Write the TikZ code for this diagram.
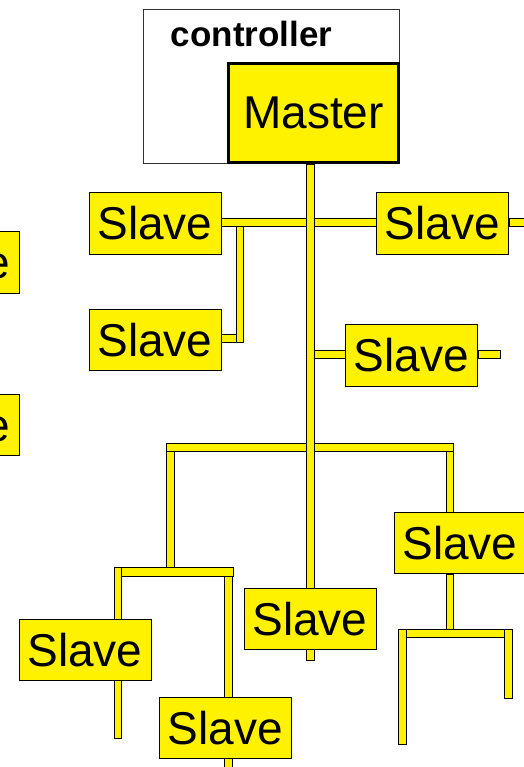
\documentclass[tikz,border=0pt]{standalone}
\usepackage{fontspec}
\setmainfont{Liberation Sans}
\begin{document}
\begin{tikzpicture}[x=1pt,y=-1pt,
  bus/.style={fill=yellow,draw=black,line width=0.7pt},
  slavebox/.style={draw=black,fill=yellow,line width=0.8pt,minimum width=132pt,minimum height=61.5pt,inner sep=0pt,font=\fontsize{46}{46}\selectfont},
  masterbox/.style={draw=black,fill=yellow,line width=3pt,minimum width=170pt,minimum height=99pt,inner sep=0pt,font=\fontsize{46}{46}\selectfont},
  ctrlbox/.style={draw=black!80,fill=white,line width=0.8pt}]
\useasboundingbox (0,0) rectangle (523,767);
% controller
\draw[ctrlbox] (143,9) rectangle (399,163);
\node[anchor=base,font=\fontsize{35}{35}\selectfont\bfseries] (ctrl) at (251.5,46.5) {controller};
% buses
\draw[bus] (221,218) rectangle (376,226);
\draw[bus] (509,218) rectangle (530,226);
\draw[bus] (221,334) rectangle (243,342);
\draw[bus] (236,226) rectangle (243,342);
\draw[bus] (314,350) rectangle (345,358);
\draw[bus] (478,350) rectangle (500,358);
\draw[bus] (166,443) rectangle (453,451);
\draw[bus] (166,451) rectangle (174,567);
\draw[bus] (446,451) rectangle (453,512);
\draw[bus] (114,567) rectangle (233,576);
\draw[bus] (114,567) rectangle (121,738);
\draw[bus] (224,576) rectangle (232,775);
\draw[bus] (446,574) rectangle (453,629);
\draw[bus] (398,629) rectangle (512,637);
\draw[bus] (398,629) rectangle (406,744);
\draw[bus] (504,629) rectangle (512,698);
\draw[bus] (306,164) rectangle (314,660);
% master
\node[masterbox] (master) at (313.5,113) {Master};
% slaves
\node[slavebox] (s1) at (155,223.5) {Slave};
\node[slavebox] (s2) at (155,340) {Slave};
\node[slavebox] (sl1) at (-47,262.5) {Slave};
\node[slavebox] (sl2) at (-47,425) {Slave};
\node[slavebox] (s5) at (442.5,223.5) {Slave};
\node[slavebox] (s6) at (411.5,355.5) {Slave};
\node[slavebox] (s7) at (460,543) {Slave};
\node[slavebox] (s8) at (310,619) {Slave};
\node[slavebox] (s9) at (85,650) {Slave};
\node[slavebox] (s10) at (225.5,728) {Slave};
\end{tikzpicture}
\end{document}
